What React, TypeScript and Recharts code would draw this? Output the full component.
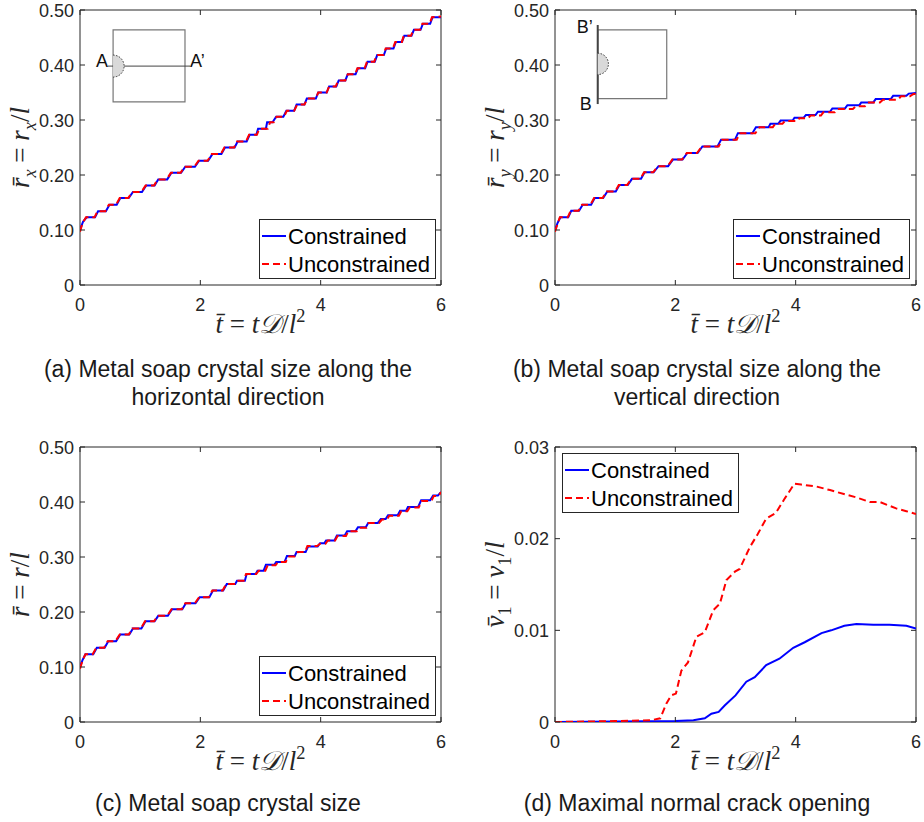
import React from 'react';
import { LineChart, Line, XAxis, YAxis, ReferenceArea, ReferenceLine, ReferenceDot, Legend } from 'recharts';

type Pt = [number, number];

// shared ticks
const tTicks = [0, 2, 4, 6];
const rTicks = [0, 0.1, 0.2, 0.3, 0.4, 0.5];
const vTicks = [0, 0.01, 0.02, 0.03];

const seriesNames = ['Constrained', 'Unconstrained'];

// (a) horizontal crystal size, corner points of the stair curves [t, r]
const rxConstrained: Pt[] = [
  [0, 0.1], [0.05, 0.115], [0.11, 0.123], [0.25, 0.123], [0.3, 0.134], [0.43, 0.134], [0.49, 0.146], [0.61, 0.146],
  [0.67, 0.158], [0.81, 0.158], [0.88, 0.169], [1.03, 0.169], [1.1, 0.181], [1.24, 0.181], [1.3, 0.192], [1.45, 0.192],
  [1.52, 0.204], [1.68, 0.204], [1.75, 0.215], [1.91, 0.215], [1.98, 0.226], [2.13, 0.226], [2.2, 0.238], [2.35, 0.238],
  [2.41, 0.25], [2.57, 0.25], [2.62, 0.261], [2.77, 0.261], [2.82, 0.273], [2.93, 0.273], [2.96, 0.284], [3.09, 0.284],
  [3.11, 0.296], [3.2, 0.296], [3.26, 0.306], [3.38, 0.306], [3.43, 0.317], [3.56, 0.317], [3.6, 0.328], [3.73, 0.328],
  [3.77, 0.339], [3.92, 0.339], [3.96, 0.35], [4.1, 0.35], [4.14, 0.361], [4.26, 0.361], [4.3, 0.372], [4.41, 0.372],
  [4.45, 0.383], [4.58, 0.383], [4.62, 0.394], [4.74, 0.394], [4.78, 0.406], [4.9, 0.406], [4.94, 0.418], [5.05, 0.418],
  [5.09, 0.43], [5.21, 0.43], [5.25, 0.442], [5.35, 0.442], [5.39, 0.453], [5.51, 0.453], [5.55, 0.464], [5.66, 0.464],
  [5.7, 0.475], [5.82, 0.475], [5.86, 0.487], [6, 0.487],
];
const rxUnconstrained: Pt[] = [
  [0, 0.097], [0.04, 0.112], [0.1, 0.123], [0.24, 0.123], [0.29, 0.134], [0.42, 0.134], [0.48, 0.146], [0.6, 0.146],
  [0.66, 0.158], [0.8, 0.158], [0.87, 0.169], [1.02, 0.169], [1.09, 0.181], [1.23, 0.181], [1.29, 0.192], [1.44, 0.192],
  [1.51, 0.204], [1.67, 0.204], [1.74, 0.215], [1.9, 0.215], [1.97, 0.226], [2.12, 0.226], [2.19, 0.238], [2.34, 0.238],
  [2.4, 0.25], [2.56, 0.25], [2.61, 0.261], [2.76, 0.261], [2.81, 0.273], [2.94, 0.273], [2.98, 0.284], [3.12, 0.284],
  [3.16, 0.296], [3.22, 0.296], [3.27, 0.306], [3.39, 0.306], [3.44, 0.317], [3.56, 0.317], [3.61, 0.328], [3.73, 0.328],
  [3.78, 0.339], [3.92, 0.339], [3.96, 0.35], [4.1, 0.35], [4.14, 0.361], [4.25, 0.361], [4.29, 0.372], [4.41, 0.372],
  [4.45, 0.383], [4.57, 0.383], [4.61, 0.394], [4.73, 0.394], [4.77, 0.406], [4.89, 0.406], [4.93, 0.418], [5.04, 0.418],
  [5.08, 0.43], [5.2, 0.43], [5.24, 0.442], [5.35, 0.442], [5.38, 0.453], [5.5, 0.453], [5.54, 0.464], [5.65, 0.464],
  [5.69, 0.475], [5.81, 0.475], [5.85, 0.487], [6, 0.488],
];

// (b) vertical crystal size
const ryConstrained: Pt[] = [
  [0, 0.1], [0.04, 0.112], [0.09, 0.123], [0.22, 0.123], [0.27, 0.135], [0.4, 0.135], [0.46, 0.146], [0.6, 0.146],
  [0.66, 0.158], [0.8, 0.158], [0.87, 0.17], [1.01, 0.17], [1.07, 0.182], [1.21, 0.182], [1.28, 0.193], [1.43, 0.193],
  [1.49, 0.205], [1.64, 0.205], [1.72, 0.216], [1.88, 0.216], [1.96, 0.228], [2.12, 0.228], [2.2, 0.24], [2.37, 0.24],
  [2.45, 0.252], [2.7, 0.252], [2.76, 0.264], [2.99, 0.264], [3.04, 0.276], [3.28, 0.276], [3.34, 0.287], [3.55, 0.287],
  [3.58, 0.293], [3.71, 0.293], [3.75, 0.299], [3.95, 0.299], [3.98, 0.304], [4.13, 0.304], [4.17, 0.309], [4.33, 0.309],
  [4.37, 0.315], [4.57, 0.315], [4.61, 0.321], [4.82, 0.321], [4.86, 0.327], [5.06, 0.327], [5.09, 0.332], [5.29, 0.332],
  [5.33, 0.338], [5.58, 0.338], [5.62, 0.344], [5.84, 0.344], [5.88, 0.348], [6, 0.349],
];
const ryUnconstrained: Pt[] = [
  [0, 0.097], [0.04, 0.11], [0.08, 0.123], [0.21, 0.123], [0.26, 0.135], [0.39, 0.135], [0.45, 0.146], [0.59, 0.146],
  [0.65, 0.158], [0.79, 0.158], [0.86, 0.17], [1.0, 0.17], [1.06, 0.182], [1.2, 0.182], [1.27, 0.193], [1.42, 0.193],
  [1.48, 0.205], [1.63, 0.205], [1.71, 0.216], [1.87, 0.216], [1.95, 0.228], [2.11, 0.228], [2.19, 0.24], [2.36, 0.24],
  [2.44, 0.252], [2.72, 0.252], [2.78, 0.264], [3.02, 0.264], [3.07, 0.276], [3.33, 0.276], [3.4, 0.287], [3.62, 0.287],
  [3.66, 0.293], [3.78, 0.293], [3.82, 0.298], [4.02, 0.298], [4.06, 0.303], [4.2, 0.303], [4.25, 0.308], [4.42, 0.308],
  [4.46, 0.314], [4.65, 0.314], [4.7, 0.32], [4.95, 0.32], [5.0, 0.325], [5.15, 0.325], [5.2, 0.332], [5.4, 0.332],
  [5.45, 0.337], [5.7, 0.337], [5.75, 0.343], [5.9, 0.343], [5.95, 0.347], [6, 0.348],
];

// (c) crystal size
const rConstrained: Pt[] = [
  [0, 0.1], [0.04, 0.112], [0.09, 0.123], [0.22, 0.123], [0.28, 0.135], [0.41, 0.135], [0.47, 0.147], [0.6, 0.147],
  [0.67, 0.159], [0.82, 0.159], [0.88, 0.17], [1.02, 0.17], [1.09, 0.183], [1.24, 0.183], [1.3, 0.193], [1.46, 0.193],
  [1.53, 0.205], [1.7, 0.205], [1.76, 0.216], [1.92, 0.216], [1.99, 0.227], [2.15, 0.227], [2.21, 0.239], [2.38, 0.239],
  [2.44, 0.251], [2.58, 0.251], [2.61, 0.257], [2.74, 0.257], [2.77, 0.269], [2.92, 0.269], [2.95, 0.275], [3.05, 0.275],
  [3.09, 0.286], [3.23, 0.286], [3.26, 0.291], [3.4, 0.291], [3.44, 0.302], [3.57, 0.302], [3.6, 0.309], [3.75, 0.309],
  [3.79, 0.319], [3.95, 0.319], [3.99, 0.325], [4.06, 0.325], [4.09, 0.33], [4.23, 0.33], [4.27, 0.339], [4.4, 0.339],
  [4.44, 0.347], [4.58, 0.347], [4.62, 0.354], [4.75, 0.354], [4.79, 0.362], [4.95, 0.362], [5.0, 0.369], [5.08, 0.369],
  [5.12, 0.376], [5.28, 0.376], [5.32, 0.384], [5.42, 0.384], [5.45, 0.391], [5.62, 0.391], [5.67, 0.403], [5.82, 0.403],
  [5.87, 0.412], [5.95, 0.412], [6, 0.418],
];
const rUnconstrained: Pt[] = [
  [0, 0.097], [0.04, 0.111], [0.09, 0.123], [0.21, 0.123], [0.27, 0.135], [0.4, 0.135], [0.46, 0.147], [0.59, 0.147],
  [0.66, 0.159], [0.81, 0.159], [0.87, 0.17], [1.01, 0.17], [1.08, 0.183], [1.23, 0.183], [1.29, 0.193], [1.45, 0.193],
  [1.52, 0.205], [1.69, 0.205], [1.75, 0.216], [1.91, 0.216], [1.98, 0.227], [2.14, 0.227], [2.2, 0.239], [2.37, 0.239],
  [2.43, 0.251], [2.59, 0.251], [2.63, 0.257], [2.72, 0.257], [2.76, 0.269], [2.93, 0.269], [2.97, 0.275], [3.08, 0.275],
  [3.12, 0.285], [3.25, 0.285], [3.29, 0.291], [3.42, 0.291], [3.46, 0.301], [3.58, 0.301], [3.62, 0.309], [3.74, 0.309],
  [3.78, 0.32], [3.94, 0.32], [3.99, 0.324], [4.08, 0.324], [4.12, 0.33], [4.24, 0.33], [4.28, 0.338], [4.42, 0.338],
  [4.46, 0.347], [4.6, 0.347], [4.64, 0.353], [4.76, 0.353], [4.8, 0.362], [4.97, 0.362], [5.02, 0.368], [5.1, 0.368],
  [5.14, 0.375], [5.3, 0.375], [5.34, 0.383], [5.44, 0.383], [5.48, 0.39], [5.63, 0.39], [5.68, 0.402], [5.84, 0.402],
  [5.88, 0.411], [5.96, 0.411], [6, 0.418],
];

// (d) maximal normal crack opening [t, v]
const vConstrained: Pt[] = [
  [0, 0], [1, 0.00005], [2, 0.0001], [2.3, 0.0002], [2.49, 0.0004], [2.6, 0.0009], [2.72, 0.0011], [2.82, 0.0018],
  [3.0, 0.0029], [3.18, 0.0044], [3.32, 0.0049], [3.51, 0.0062], [3.73, 0.0069], [3.96, 0.0081], [4.15, 0.0087],
  [4.43, 0.0097], [4.59, 0.01], [4.81, 0.0105], [5.01, 0.0107], [5.29, 0.0106], [5.56, 0.0106], [5.84, 0.0105], [6, 0.0102],
];
const vUnconstrained: Pt[] = [
  [0, 0], [1, 0.0001], [1.6, 0.0002], [1.75, 0.0004], [1.85, 0.002], [1.93, 0.0029], [2.01, 0.0031], [2.1, 0.0056],
  [2.21, 0.0065], [2.35, 0.0093], [2.49, 0.0098], [2.63, 0.0122], [2.74, 0.0129], [2.85, 0.0155], [2.99, 0.0164],
  [3.07, 0.0167], [3.24, 0.0191], [3.37, 0.0205], [3.51, 0.0222], [3.67, 0.0228], [3.82, 0.0244], [3.98, 0.026],
  [4.09, 0.0259], [4.34, 0.0257], [4.57, 0.0253], [4.84, 0.0248], [5.01, 0.0245], [5.23, 0.024], [5.4, 0.024],
  [5.67, 0.0233], [5.84, 0.023], [6, 0.0227],
];

const AXIS = '#262626';
const BLUE = '#0000ff';
const RED = '#ff0000';
const SANS = "'Liberation Sans', Arial, sans-serif";
const SERIF = "'Liberation Serif', 'DejaVu Serif', serif";

const W = 460;
const H = 340;
const PLOT_TOP = 10;
const PLOT_BOTTOM = 285;

const rows = (pts: Pt[]) => pts.map(([t, v]) => ({ t, v }));
const fmtTick = (v: number, digits: number) => (v === 0 ? '0' : v.toFixed(digits));

type Seg = { s: string; sub?: boolean; sup?: boolean; up?: boolean };

function MathText({ x, y, segs, size, rotate }: { x: number; y: number; segs: Seg[]; size: number; rotate?: boolean }) {
  const off = (lvl: number) => (lvl === 1 ? size * 0.25 : lvl === -1 ? -size * 0.4 : 0);
  let level = 0;
  return (
    <text
      x={x}
      y={y}
      textAnchor="middle"
      fontFamily={SERIF}
      fontSize={size}
      fill={AXIS}
      transform={rotate ? `rotate(-90 ${x} ${y})` : undefined}
    >
      {segs.map((g, i) => {
        const target = g.sub ? 1 : g.sup ? -1 : 0;
        const dy = off(target) - off(level);
        level = target;
        return (
          <tspan key={i} dy={dy} fontSize={target ? size * 0.68 : size} fontStyle={g.up ? 'normal' : 'italic'}>
            {g.s}
          </tspan>
        );
      })}
    </text>
  );
}

const tLabel: Seg[] = [{ s: 't\u0304' }, { s: ' = ', up: true }, { s: 't\u{1D49F}' }, { s: '/', up: true }, { s: 'l' }, { s: '2', sup: true, up: true }];

function LegendBox() {
  return (
    <svg width={177} height={60} style={{ display: 'block' }}>
      <rect x={0.5} y={0.5} width={176} height={59} fill="#fff" stroke={AXIS} strokeWidth={1} />
      <line x1={3} x2={27} y1={17} y2={17} stroke={BLUE} strokeWidth={2} />
      <line x1={3} x2={27} y1={45} y2={45} stroke={RED} strokeWidth={2} strokeDasharray="7 4" />
      <text x={29} y={25} fontFamily={SANS} fontSize={22} fill="#000">{seriesNames[0]}</text>
      <text x={29} y={53} fontFamily={SANS} fontSize={22} fill="#000">{seriesNames[1]}</text>
    </svg>
  );
}

function HalfDisc({ cx, cy, r }: { cx: number; cy: number; r: number }) {
  return (
    <g>
      <path d={`M${cx},${cy - r} A${r},${r} 0 0 1 ${cx},${cy + r} Z`} fill="#d9d9d9" stroke="none" />
      <path d={`M${cx},${cy - r} A${r},${r} 0 0 1 ${cx},${cy + r}`} fill="none" stroke="#333" strokeWidth={1} strokeDasharray="1.5 1.5" />
    </g>
  );
}

const insetText = (label: string, dx: number, dy: number, anchor: 'start' | 'end') => (p: any) => (
  <text x={p.cx + dx} y={p.cy + dy} textAnchor={anchor} fontFamily={SANS} fontSize={18} fill="#111">
    {label}
  </text>
);

type PanelProps = {
  left: number;
  top: number;
  axisWidth: number;
  rightMargin: number;
  yMax: number;
  yTicks: number[];
  digits: number;
  con: Pt[];
  unc: Pt[];
  yLabel: Seg[];
  legendAt: { left: number; top: number };
  children?: React.ReactNode;
};

function Panel({ left, top, axisWidth, rightMargin, yMax, yTicks, digits, con, unc, yLabel, legendAt, children }: PanelProps) {
  const plotLeft = axisWidth;
  const plotRight = W - rightMargin;

  const xTick = (p: any) => {
    const x = p.x;
    return (
      <g>
        <line x1={x} x2={x} y1={PLOT_BOTTOM} y2={PLOT_BOTTOM - 5} stroke={AXIS} />
        <line x1={x} x2={x} y1={PLOT_TOP} y2={PLOT_TOP + 5} stroke={AXIS} />
        <text x={x} y={PLOT_BOTTOM + 26} textAnchor="middle" fontFamily={SANS} fontSize={18} fill={AXIS}>
          {p.payload.value}
        </text>
      </g>
    );
  };

  const yTick = (p: any) => {
    const y = p.y;
    return (
      <g>
        <line x1={plotLeft} x2={plotLeft + 5} y1={y} y2={y} stroke={AXIS} />
        <line x1={plotRight} x2={plotRight - 5} y1={y} y2={y} stroke={AXIS} />
        <text x={plotLeft - 6} y={y + 6.5} textAnchor="end" fontFamily={SANS} fontSize={18} fill={AXIS}>
          {fmtTick(p.payload.value, digits)}
        </text>
      </g>
    );
  };

  return (
    <div style={{ position: 'absolute', left, top }}>
      <LineChart width={W} height={H} margin={{ top: PLOT_TOP, right: rightMargin, bottom: 25, left: 0 }}>
        <XAxis
          dataKey="t"
          type="number"
          domain={[0, 6]}
          ticks={tTicks}
          allowDataOverflow
          height={30}
          axisLine={false}
          tickLine={false}
          tick={xTick}
          label={(p: any) => {
            const vb = p.viewBox;
            return <MathText x={vb.x + vb.width / 2} y={vb.y + 48} segs={tLabel} size={27} />;
          }}
        />
        <YAxis
          type="number"
          domain={[0, yMax]}
          ticks={yTicks}
          allowDataOverflow
          width={axisWidth}
          axisLine={false}
          tickLine={false}
          tick={yTick}
          label={(p: any) => {
            const vb = p.viewBox;
            return <MathText x={vb.x + vb.width - 51} y={vb.y + vb.height / 2} segs={yLabel} size={27} rotate />;
          }}
        />
        <ReferenceArea x1={0} x2={6} y1={0} y2={yMax} fill="none" stroke={AXIS} strokeWidth={1} ifOverflow="visible" />
        {children}
        <Line data={rows(con)} dataKey="v" name={seriesNames[0]} type="linear" stroke={BLUE} strokeWidth={2} dot={false} isAnimationActive={false} />
        <Line data={rows(unc)} dataKey="v" name={seriesNames[1]} type="linear" stroke={RED} strokeWidth={2} strokeDasharray="7 4" dot={false} isAnimationActive={false} />
        <Legend
          layout="horizontal"
          verticalAlign="middle"
          align="center"
          content={() => <LegendBox />}
          wrapperStyle={{ left: legendAt.left, top: legendAt.top, width: 177, height: 60 }}
        />
      </LineChart>
    </div>
  );
}

const captionStyle = (center: number, top: number): React.CSSProperties => ({
  position: 'absolute',
  left: center - 230,
  top,
  width: 460,
  textAlign: 'center',
  fontFamily: SANS,
  fontSize: 23,
  lineHeight: '28px',
  color: '#1a1a1a',
});

export default function App() {
  return (
    <div style={{ position: 'absolute', left: 0, top: 0, width: 924, height: 822, background: '#fff', overflow: 'hidden' }}>
      <Panel
        left={0}
        top={0}
        axisWidth={80}
        rightMargin={19}
        yMax={0.5}
        yTicks={rTicks}
        digits={2}
        con={rxConstrained}
        unc={rxUnconstrained}
        yLabel={[{ s: 'r\u0304' }, { s: 'x', sub: true }, { s: ' = ', up: true }, { s: 'r' }, { s: 'x', sub: true }, { s: '/', up: true }, { s: 'l' }]}
        legendAt={{ left: 259, top: 219 }}
      >
        <ReferenceArea x1={0.55} x2={1.745} y1={0.333} y2={0.464} fill="none" stroke="#777" strokeWidth={1.2} />
        <ReferenceLine segment={[{ x: 0.465, y: 0.398 }, { x: 1.83, y: 0.398 }]} stroke="#444" strokeWidth={1} />
        <ReferenceDot x={0.55} y={0.398} r={11} shape={(p: any) => <HalfDisc cx={p.cx} cy={p.cy} r={11} />} />
        <ReferenceDot x={0.465} y={0.398} r={0} shape={insetText('A', 0, 1, 'end')} />
        <ReferenceDot x={1.83} y={0.398} r={0} shape={insetText('A\u2019', 0, 1, 'start')} />
      </Panel>
      <Panel
        left={462}
        top={0}
        axisWidth={93}
        rightMargin={6}
        yMax={0.5}
        yTicks={rTicks}
        digits={2}
        con={ryConstrained}
        unc={ryUnconstrained}
        yLabel={[{ s: 'r\u0304' }, { s: 'y', sub: true }, { s: ' = ', up: true }, { s: 'r' }, { s: 'y', sub: true }, { s: '/', up: true }, { s: 'l' }]}
        legendAt={{ left: 271, top: 219 }}
      >
        <ReferenceArea x1={0.71} x2={1.857} y1={0.339} y2={0.464} fill="none" stroke="#777" strokeWidth={1.2} />
        <ReferenceDot x={0.71} y={0.402} r={11} shape={(p: any) => <HalfDisc cx={p.cx} cy={p.cy} r={10.7} />} />
        <ReferenceLine segment={[{ x: 0.71, y: 0.4727 }, { x: 0.71, y: 0.329 }]} stroke="#444" strokeWidth={2} />
        <ReferenceDot x={0.71} y={0.4727} r={0} shape={insetText('B\u2019', -5, 8, 'end')} />
        <ReferenceDot x={0.71} y={0.329} r={0} shape={insetText('B', -6, 6, 'end')} />
      </Panel>
      <Panel
        left={0}
        top={437}
        axisWidth={80}
        rightMargin={19}
        yMax={0.5}
        yTicks={rTicks}
        digits={2}
        con={rConstrained}
        unc={rUnconstrained}
        yLabel={[{ s: 'r\u0304' }, { s: ' = ', up: true }, { s: 'r' }, { s: '/', up: true }, { s: 'l' }]}
        legendAt={{ left: 259, top: 219 }}
      />
      <Panel
        left={462}
        top={437}
        axisWidth={93}
        rightMargin={6}
        yMax={0.03}
        yTicks={vTicks}
        digits={2}
        con={vConstrained}
        unc={vUnconstrained}
        yLabel={[{ s: 'v\u0304' }, { s: '1', sub: true, up: true }, { s: ' = ', up: true }, { s: 'v' }, { s: '1', sub: true, up: true }, { s: '/', up: true }, { s: 'l' }]}
        legendAt={{ left: 100, top: 16 }}
      />
      <div style={captionStyle(228, 355)}>
        (a) Metal soap crystal size along the
        <br />
        horizontal direction
      </div>
      <div style={captionStyle(697, 355)}>
        (b) Metal soap crystal size along the
        <br />
        vertical direction
      </div>
      <div style={captionStyle(228, 789)}>(c) Metal soap crystal size</div>
      <div style={captionStyle(697, 789)}>(d) Maximal normal crack opening</div>
    </div>
  );
}
